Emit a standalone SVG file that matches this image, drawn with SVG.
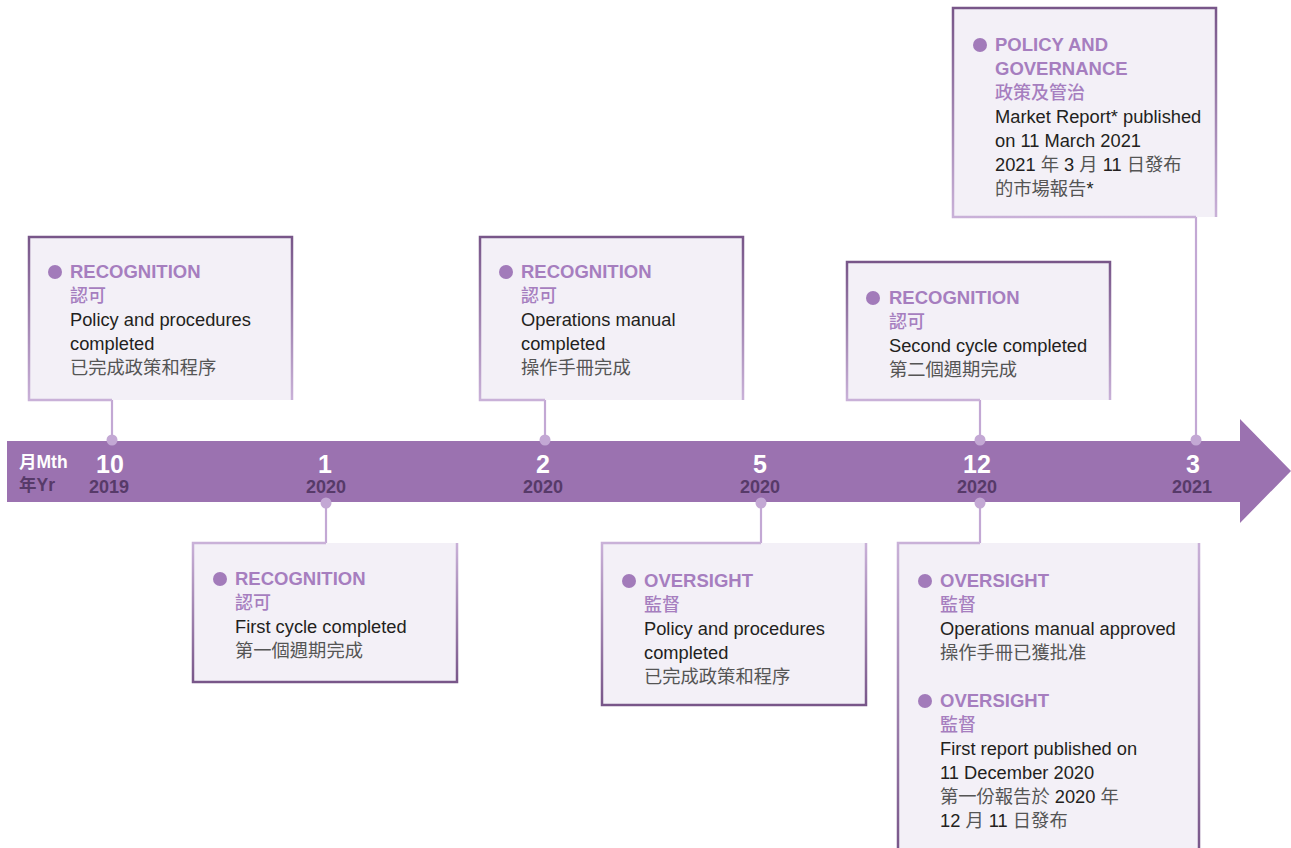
<svg xmlns="http://www.w3.org/2000/svg" width="1291" height="848" viewBox="0 0 1291 848">
<defs>
<linearGradient id="gTop" x1="0" y1="0" x2="0" y2="1">
<stop offset="0" stop-color="#785689"/>
<stop offset="1" stop-color="#c9b1d8"/>
</linearGradient>
<linearGradient id="gBot" x1="0" y1="0" x2="0" y2="1">
<stop offset="0" stop-color="#c9b1d8"/>
<stop offset="1" stop-color="#785689"/>
</linearGradient>
<style>
.fill{fill:#f3f0f7}
.bt{fill:none;stroke:url(#gTop);stroke-width:2.5}
.bb{fill:none;stroke:url(#gBot);stroke-width:2.5}
.conn{stroke:#c3a8d4;stroke-width:2.2;fill:none}
.dot{fill:#c3a8d4}
.bul{fill:#a27bba}
.h{font-family:"Liberation Sans",Arial,sans-serif;font-weight:bold;font-size:18.5px;fill:#a67ebf}
.hc{font-family:"Noto Sans CJK TC","Noto Sans CJK SC",sans-serif;font-weight:500;font-size:18px;fill:#a67ebf}
.t{font-family:"Liberation Sans",Arial,"Noto Sans CJK TC",sans-serif;font-size:18.3px;fill:#231f20}
.c{font-family:"Noto Sans CJK TC","Noto Sans CJK SC",sans-serif;fill:#555}
.m{font-family:"Liberation Sans",Arial,sans-serif;font-weight:bold;font-size:25px;fill:#fff;text-anchor:middle}
.y{font-family:"Liberation Sans",Arial,sans-serif;font-weight:bold;font-size:18px;fill:#573a69;text-anchor:middle}
</style>
</defs>
<rect width="1291" height="848" fill="#fff"/>

<g id="timeline">
<polygon points="7,441 1240,441 1240,419 1291,471 1240,523 1240,502 7,502" fill="#9b72b0"/>
<text x="19" y="468" font-family="'Liberation Sans',Arial,'Noto Sans CJK TC',sans-serif" font-weight="bold" font-size="17.5" fill="#fff">月Mth</text>
<text x="19" y="491" font-family="'Liberation Sans',Arial,'Noto Sans CJK TC',sans-serif" font-weight="bold" font-size="17.5" fill="#573a69">年Yr</text>
<text class="m" x="110" y="473">10</text><text class="y" x="109" y="493">2019</text>
<text class="m" x="325" y="473">1</text><text class="y" x="326" y="493">2020</text>
<text class="m" x="543" y="473">2</text><text class="y" x="543" y="493">2020</text>
<text class="m" x="760" y="473">5</text><text class="y" x="760" y="493">2020</text>
<text class="m" x="977" y="473">12</text><text class="y" x="977" y="493">2020</text>
<text class="m" x="1193" y="473">3</text><text class="y" x="1192" y="493">2021</text>
</g>

<g id="connectors">
<line class="conn" x1="112" y1="400" x2="112" y2="440"/>
<line class="conn" x1="545" y1="400" x2="545" y2="440"/>
<line class="conn" x1="980" y1="400" x2="980" y2="440"/>
<line class="conn" x1="1196" y1="217" x2="1196" y2="440"/>
<line class="conn" x1="326" y1="502" x2="326" y2="543"/>
<line class="conn" x1="761" y1="502" x2="761" y2="543"/>
<line class="conn" x1="980" y1="502" x2="980" y2="543"/>
<circle class="dot" cx="112" cy="440" r="5.5"/>
<circle class="dot" cx="545" cy="440" r="5.5"/>
<circle class="dot" cx="980" cy="440" r="5.5"/>
<circle class="dot" cx="1196" cy="440" r="5.5"/>
<circle class="dot" cx="326" cy="503" r="5.5"/>
<circle class="dot" cx="761" cy="503" r="5.5"/>
<circle class="dot" cx="980" cy="503" r="5.5"/>
</g>

<g id="box-2019-10">
<rect class="fill" x="29" y="237" width="263" height="163"/>
<path class="bt" d="M112,400 H29 V237 H292 V400"/>
<circle class="bul" cx="55" cy="272" r="7"/>
<text class="h" x="70" y="278">RECOGNITION</text>
<text class="hc" x="70" y="302">認可</text>
<text class="t" x="70" y="326">Policy and procedures</text>
<text class="t" x="70" y="350">completed</text>
<text class="t c" x="70" y="374">已完成政策和程序</text>
</g>

<g id="box-2020-2">
<rect class="fill" x="480" y="237" width="263" height="163"/>
<path class="bt" d="M545,400 H480 V237 H743 V400"/>
<circle class="bul" cx="506" cy="272" r="7"/>
<text class="h" x="521" y="278">RECOGNITION</text>
<text class="hc" x="521" y="302">認可</text>
<text class="t" x="521" y="326">Operations manual</text>
<text class="t" x="521" y="350">completed</text>
<text class="t c" x="521" y="374">操作手冊完成</text>
</g>

<g id="box-2020-12-top">
<rect class="fill" x="847" y="262" width="263" height="138"/>
<path class="bt" d="M980,400 H847 V262 H1110 V400"/>
<circle class="bul" cx="873" cy="298" r="7"/>
<text class="h" x="889" y="304">RECOGNITION</text>
<text class="hc" x="889" y="328">認可</text>
<text class="t" x="889" y="352">Second cycle completed</text>
<text class="t c" x="889" y="376">第二個週期完成</text>
</g>

<g id="box-2021-3">
<rect class="fill" x="953" y="8" width="263" height="209"/>
<path class="bt" d="M1196,217 H953 V8 H1216 V217"/>
<circle class="bul" cx="980" cy="45" r="7"/>
<text class="h" x="995" y="51">POLICY AND</text>
<text class="h" x="995" y="75">GOVERNANCE</text>
<text class="hc" x="995" y="99">政策及管治</text>
<text class="t" x="995" y="123">Market Report* published</text>
<text class="t" x="995" y="147">on 11 March 2021</text>
<text class="t" x="995" y="171">2021 <tspan class="c">年</tspan> 3 <tspan class="c">月</tspan> 11 <tspan class="c">日發布</tspan></text>
<text class="t" x="995" y="195"><tspan class="c">的市場報告</tspan>*</text>
</g>

<g id="box-2020-1">
<rect class="fill" x="193" y="543" width="264" height="139"/>
<path class="bb" d="M326,543 H193 V682 H457 V543"/>
<circle class="bul" cx="220" cy="579" r="7"/>
<text class="h" x="235" y="585">RECOGNITION</text>
<text class="hc" x="235" y="609">認可</text>
<text class="t" x="235" y="633">First cycle completed</text>
<text class="t c" x="235" y="657">第一個週期完成</text>
</g>

<g id="box-2020-5">
<rect class="fill" x="602" y="543" width="264" height="162"/>
<path class="bb" d="M761,543 H602 V705 H866 V543"/>
<circle class="bul" cx="629" cy="581" r="7"/>
<text class="h" x="644" y="587">OVERSIGHT</text>
<text class="hc" x="644" y="611">監督</text>
<text class="t" x="644" y="635">Policy and procedures</text>
<text class="t" x="644" y="659">completed</text>
<text class="t c" x="644" y="683">已完成政策和程序</text>
</g>

<g id="box-2020-12-bottom">
<rect class="fill" x="898" y="543" width="301" height="310"/>
<path class="bb" d="M980,543 H898 V852 M1199,852 V543"/>
<circle class="bul" cx="925" cy="581" r="7"/>
<text class="h" x="940" y="587">OVERSIGHT</text>
<text class="hc" x="940" y="611">監督</text>
<text class="t" x="940" y="635">Operations manual approved</text>
<text class="t c" x="940" y="659">操作手冊已獲批准</text>
<circle class="bul" cx="925" cy="701" r="7"/>
<text class="h" x="940" y="707">OVERSIGHT</text>
<text class="hc" x="940" y="731">監督</text>
<text class="t" x="940" y="755">First report published on</text>
<text class="t" x="940" y="779">11 December 2020</text>
<text class="t" x="940" y="803"><tspan class="c">第一份報告於</tspan> 2020 <tspan class="c">年</tspan></text>
<text class="t" x="940" y="827">12 <tspan class="c">月</tspan> 11 <tspan class="c">日發布</tspan></text>
</g>
</svg>
